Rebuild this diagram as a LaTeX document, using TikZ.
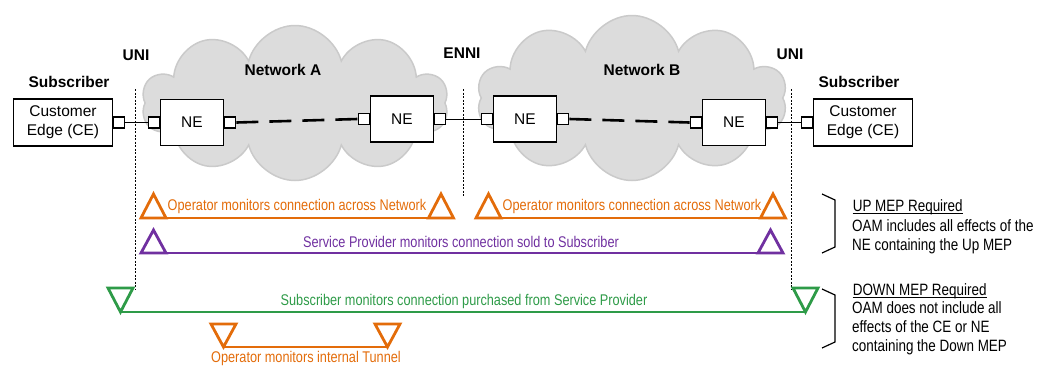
\documentclass[tikz,border=0pt]{standalone}
\usepackage{fontspec}
\setmainfont{Liberation Sans}
\newfontfamily\narrow[FakeStretch=0.82]{Liberation Sans}
\usetikzlibrary{shapes.symbols}
\definecolor{morange}{HTML}{E36C0A}
\definecolor{mpurple}{HTML}{7030A0}
\definecolor{mgreen}{HTML}{2E9B48}
\definecolor{cloudfill}{HTML}{DCDCDC}
\definecolor{cloudline}{HTML}{CACACA}
\newcommand{\ulbox}[1]{\tikz[baseline=(ut.base)]{\node[inner sep=0] (ut) {#1};\draw[line width=0.8pt] ([yshift=-2pt]ut.base west) -- ([yshift=-2pt]ut.base east);}}
\begin{document}
\begin{tikzpicture}[x=1pt,y=-1pt,
 lbl/.style={font=\fontsize{15.5}{18}\selectfont\bfseries, inner sep=0},
 box/.style={draw, line width=1.4pt, fill=white, font=\fontsize{15.5}{19}\selectfont, align=center, inner sep=0},
 nebox/.style={box, minimum width=63pt, minimum height=46pt},
 cebox/.style={box, minimum width=99pt, minimum height=47pt},
 port/.style={draw, line width=1.2pt, fill=white, minimum size=11pt, inner sep=0},
 link/.style={line width=1pt},
 trunk/.style={line width=2.6pt, dash pattern=on 22pt off 11pt},
 demarc/.style={line width=0.6pt, dash pattern=on 2pt off 1.5pt},
 cloudshape/.style={cloud, cloud puffs=10, cloud ignores aspect, fill=cloudfill, draw=cloudline, line width=1.5pt, inner sep=0},
 mep/.style={line width=2.8pt, line join=miter},
 meplabel/.style={font=\narrow\fontsize{15.5}{18}\selectfont, inner sep=0},
 note/.style={font=\narrow\fontsize{16.4}{18.7}\selectfont, align=left, inner sep=0, anchor=north west},
 brace/.style={line width=1.2pt}
]
\useasboundingbox (0,0) rectangle (1042,365);

% clouds
\node[cloudshape, minimum width=306pt, minimum height=155pt] (cloudA) at (295,103) {};
\node[cloudshape, minimum width=310pt, minimum height=165pt] (cloudB) at (632,98) {};

% labels
\node[lbl] (uniL) at (136,55) {UNI};
\node[lbl] (subL) at (69,82) {Subscriber};
\node[lbl] (netA) at (283,70) {Network A};
\node[lbl] (enni) at (462,53) {ENNI};
\node[lbl] (netB) at (642,70) {Network B};
\node[lbl] (uniR) at (790,54) {UNI};
\node[lbl] (subR) at (859,82) {Subscriber};

% boxes
\node[cebox] (ceL) at (63,122.5) {Customer\\Edge (CE)};
\node[port, anchor=west] (ceL-p) at (ceL.east) {};
\node[nebox] (ne1) at (192,122.5) {NE};
\node[port, anchor=east] (ne1-pl) at (ne1.west) {};
\node[port, anchor=west] (ne1-pr) at (ne1.east) {};
\node[nebox] (ne2) at (402,119) {NE};
\node[port, anchor=east] (ne2-pl) at (ne2.west) {};
\node[port, anchor=west] (ne2-pr) at (ne2.east) {};
\node[nebox] (ne3) at (525,119) {NE};
\node[port, anchor=east] (ne3-pl) at (ne3.west) {};
\node[port, anchor=west] (ne3-pr) at (ne3.east) {};
\node[nebox] (ne4) at (734,122.5) {NE};
\node[port, anchor=east] (ne4-pl) at (ne4.west) {};
\node[port, anchor=west] (ne4-pr) at (ne4.east) {};
\node[cebox] (ceR) at (863,122.5) {Customer\\Edge (CE)};
\node[port, anchor=east] (ceR-p) at (ceR.west) {};

% connectors
\draw[link] (ceL-p.east) -- (ne1-pl.west);
\draw[trunk] (ne1-pr.east) -- (ne2-pl.west);
\draw[link] (ne2-pr.east) -- (ne3-pl.west);
\draw[trunk] (ne3-pr.east) -- (ne4-pl.west);
\draw[link] (ne4-pr.east) -- (ceR-p.west);

% demarcation lines
\coordinate (dL1) at (135,89);  \coordinate (dL2) at (135,289);
\coordinate (dE1) at (463,89);  \coordinate (dE2) at (463,196);
\coordinate (dR1) at (791,89);  \coordinate (dR2) at (791,289);
\draw[demarc] (dL1) -- (dL2);
\draw[demarc] (dE1) -- (dE2);
\draw[demarc] (dR1) -- (dR2);

% Operator row (network A)
\coordinate (o1L) at (153.5,218);
\coordinate (o1R) at (441,218);
\draw[mep, morange] ([xshift=-12.5pt]o1L) -- ([xshift=12.5pt]o1R);
\draw[mep, morange] (o1L) ++(-12.5,0) -- ++(12.5,-24) -- ++(12.5,24) -- cycle;
\draw[mep, morange] (o1R) ++(-12.5,0) -- ++(12.5,-24) -- ++(12.5,24) -- cycle;
\node[meplabel, text=morange] (o1t) at (297,206) {Operator monitors connection across Network};

% Operator row (network B)
\coordinate (o2L) at (488.5,218);
\coordinate (o2R) at (773,218);
\draw[mep, morange] ([xshift=-12.5pt]o2L) -- ([xshift=12.5pt]o2R);
\draw[mep, morange] (o2L) ++(-12.5,0) -- ++(12.5,-24) -- ++(12.5,24) -- cycle;
\draw[mep, morange] (o2R) ++(-12.5,0) -- ++(12.5,-24) -- ++(12.5,24) -- cycle;
\node[meplabel, text=morange] (o2t) at (632,206) {Operator monitors connection across Network};

% Service provider row
\coordinate (pL) at (153.5,253);
\coordinate (pR) at (770.5,253);
\draw[mep, mpurple] ([xshift=-12.5pt]pL) -- ([xshift=12.5pt]pR);
\draw[mep, mpurple] (pL) ++(-12.5,0) -- ++(12.5,-23) -- ++(12.5,23) -- cycle;
\draw[mep, mpurple] (pR) ++(-12.5,0) -- ++(12.5,-23) -- ++(12.5,23) -- cycle;
\node[meplabel, text=mpurple] (pt) at (461,242) {Service Provider monitors connection sold to Subscriber};

% Subscriber row
\coordinate (gL) at (120.5,312);
\coordinate (gR) at (805.5,312);
\draw[mep, mgreen] (gL) -- (gR);
\draw[mep, mgreen] (gL) -- ++(-12.5,-24) -- ++(25,0) -- cycle;
\draw[mep, mgreen] (gR) -- ++(-12.5,-24) -- ++(25,0) -- cycle;
\node[meplabel, text=mgreen] (gt) at (464,301) {Subscriber monitors connection purchased from Service Provider};

% Tunnel row
\coordinate (tL) at (223.5,347);
\coordinate (tR) at (387.5,347);
\draw[mep, morange] (tL) -- (tR);
\draw[mep, morange] (tL) -- ++(-12.5,-23) -- ++(25,0) -- cycle;
\draw[mep, morange] (tR) -- ++(-12.5,-23) -- ++(25,0) -- cycle;
\node[meplabel, text=morange] (tt) at (306,358) {Operator monitors internal Tunnel};

% braces and notes
\draw[brace] (822,194) -- (835,200) -- (835,247) -- (822,253);
\draw[brace] (822,289) -- (835,295) -- (835,342) -- (822,348);
\node[note] (upnote) at (852,199) {\ulbox{UP MEP Required}\\[2pt]OAM includes all effects of the\\NE containing the Up MEP};
\node[note] (downnote) at (852,283) {\ulbox{DOWN MEP Required}\\OAM does not include all\\effects of the CE or NE\\containing the Down MEP};
\end{tikzpicture}
\end{document}
